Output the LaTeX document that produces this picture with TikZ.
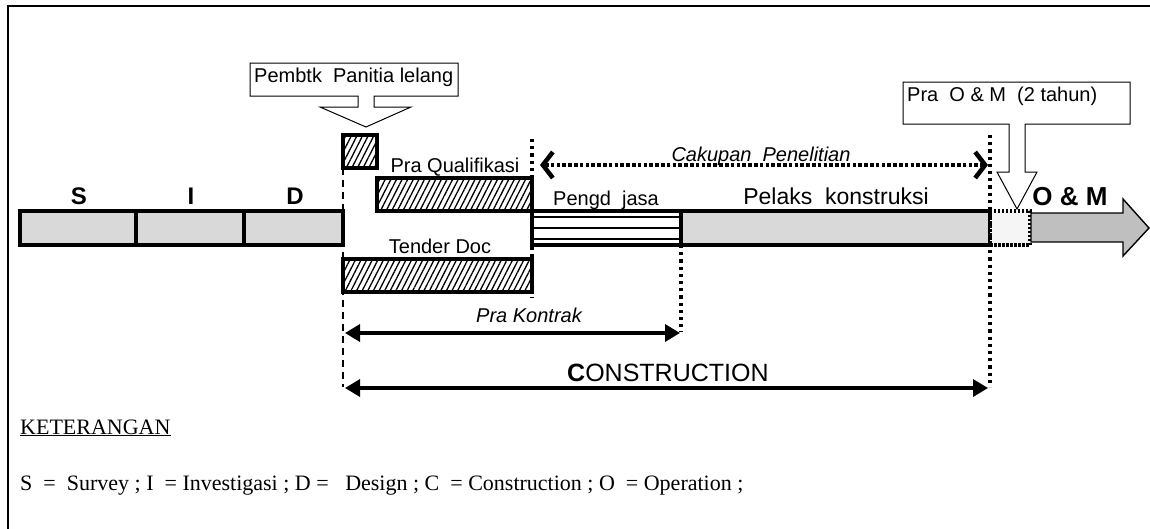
\documentclass[tikz,border=0pt]{standalone}
\usepackage{fontspec}
\setmainfont{Liberation Serif}
\newfontfamily\arial{Liberation Sans}
\usetikzlibrary{patterns.meta,arrows.meta}
\begin{document}
\begin{tikzpicture}[x=1pt,y=-1pt,
  box/.style={draw, line width=3.4pt, inner sep=0, outer sep=0, anchor=north west},
  bar/.style={box, fill=gray!30},
  hatch/.style={box, pattern={Lines[angle=63,distance=5pt,line width=1.3pt]}},
  lbl/.style={font=\arial\fontsize{20}{24}\selectfont, anchor=base, inner sep=0},
  ilbl/.style={lbl, font=\arial\itshape\fontsize{20}{24}\selectfont},
  big/.style={font=\arial\bfseries\fontsize{24}{28}\selectfont, anchor=base, inner sep=0},
  vdot/.style={line width=3.2pt, dash pattern=on 3.2pt off 4pt},
  vdash/.style={line width=2.8pt, dash pattern=on 7pt off 5pt},
  callout/.style={draw, line width=1pt, fill=white},
  dimarrow/.style={line width=3.4pt, {Triangle[length=15pt,width=17pt]}-{Triangle[length=15pt,width=17pt]}}
]
\useasboundingbox (0,0) rectangle (1150,528);
% frame
\draw[line width=2.2pt] (8,540) -- (8,6) -- (1160,6);

% S I D bar
\node[bar, minimum width=116pt, minimum height=34pt] (bs) at (20,211) {};
\node[bar, minimum width=108pt, minimum height=34pt] (bi) at (136,211) {};
\node[bar, minimum width=99pt, minimum height=34pt] (bd) at (244,211) {};
\node[big] (ls) at (79,204) {S};
\node[big] (li) at (191,204) {I};
\node[big] (ld) at (295,204) {D};

% hatched boxes
\node[hatch, minimum width=34pt, minimum height=33pt] (sm) at (343,135) {};
\node[hatch, minimum width=155pt, minimum height=33pt] (pq) at (377,178) {};
\node[hatch, minimum width=189pt, minimum height=33pt] (td) at (343,259) {};
\node[lbl] (lpq) at (455,172) {Pra Qualifikasi};
\node[lbl] (ltd) at (440,253) {Tender Doc};

% Pengd jasa
\node[box, fill=white, minimum width=149pt, minimum height=34pt] (pj) at (532,211) {};
\draw[line width=2.6pt] ([yshift=-6pt]pj.north west) -- ([yshift=-6pt]pj.north east);
\draw[line width=2.6pt] ([yshift=-17pt]pj.north west) -- ([yshift=-17pt]pj.north east);
\draw[line width=2.6pt] ([yshift=-28pt]pj.north west) -- ([yshift=-28pt]pj.north east);
\node[lbl] (lpj) at (606,205) {Pengd\ \ jasa};

% Pelaks konstruksi
\node[bar, minimum width=309pt, minimum height=34pt] (pk) at (681,211) {};
\node[lbl, font=\arial\fontsize{23}{27}\selectfont] (lpk) at (836,204) {Pelaks\ \ konstruksi};

% Pra O&M box
\node[box, fill=gray!8, dash pattern=on 2.5pt off 1.5pt, minimum width=40pt, minimum height=34pt] (pom) at (990,211) {};

% O&M arrow
\draw[line width=1.4pt, fill=gray!50] (1031,213) -- (1123,213) -- (1123,199) -- (1149,228) -- (1123,256) -- (1123,242) -- (1031,242) -- cycle;
\node[big, font=\arial\bfseries\fontsize{26}{30}\selectfont] (lom) at (1070,205) {O \& M};

% vertical guide lines
\coordinate (g1b) at (343,387);
\coordinate (g2t) at (532,139);
\coordinate (g2b) at (532,298);
\coordinate (g3b) at (681,332);
\coordinate (g4t) at (990,135);
\coordinate (g4b) at (990,387);
\draw[vdash] (sm.south west) -- (g1b);
\draw[vdot] (g2t) -- (g2b);
\draw[vdot] (pj.south east) -- (g3b);
\draw[vdot] (g4t) -- (g4b);

% Cakupan Penelitian
\coordinate (c1) at (540,165);
\coordinate (c2) at (988,165);
\draw[line width=3.6pt, dash pattern=on 3.6pt off 2.2pt,
  {Straight Barb[length=10pt,width=26pt,line width=4.5pt]}-{Straight Barb[length=10pt,width=26pt,line width=4.5pt]}] (c1) -- (c2);
\node[ilbl] (lcak) at (761,161) {Cakupan\ \ Penelitian};

% Pra Kontrak
\coordinate (k1) at (345,333);
\coordinate (k2) at (680,333);
\draw[dimarrow] (k1) -- (k2);
\node[ilbl] (lkon) at (529,322) {Pra Kontrak};

% CONSTRUCTION
\coordinate (m1) at (345,388);
\coordinate (m2) at (988,388);
\draw[dimarrow] (m1) -- (m2);
\node[lbl, anchor=base west, font=\arial\fontsize{25}{29}\selectfont] (lcon) at (567,381) {{\bfseries C}ONSTRUCTION};

% callout Pembtk Panitia lelang
\draw[callout] (250,63) -- (458,63) -- (458,96) -- (374,96) -- (374,107) -- (411,107) -- (366,127) -- (320,107) -- (358,107) -- (358,96) -- (250,96) -- cycle;
\node[lbl, anchor=base west] (lpp) at (254,82) {Pembtk\ \ Panitia lelang};

% callout Pra O&M
\draw[callout] (903,82) -- (1130,82) -- (1130,124) -- (1025,124) -- (1025,172) -- (1037,172) -- (1017,209) -- (997,172) -- (1009,172) -- (1009,124) -- (903,124) -- cycle;
\node[lbl, anchor=base west] (lpo) at (907,101) {Pra\ \ O \& M\ \ (2 tahun)};

% legend
\node[anchor=base west, inner sep=0, font=\fontsize{22}{26}\selectfont] (ket) at (20,434) {\underline{KETERANGAN}};
\node[anchor=base west, inner sep=0, font=\fontsize{22}{26}\selectfont] (leg) at (20,490) {S\ \ =\ \ Survey ;\ I\ \ =\ Investigasi ;\ D =\ \ \ Design ;\ C\ \ =\ Construction ;\ O\ \ =\ Operation ;};
\end{tikzpicture}
\end{document}
